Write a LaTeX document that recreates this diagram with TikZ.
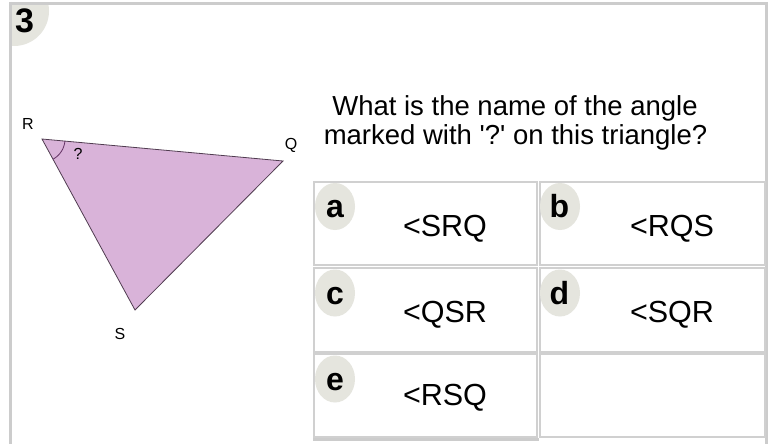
\documentclass[tikz,border=0pt]{standalone}
\usepackage{fontspec}
\setmainfont{Liberation Sans}
\frenchspacing
\definecolor{framegray}{RGB}{204,204,204}
\definecolor{cellgray}{RGB}{208,208,208}
\definecolor{badgegray}{RGB}{229,229,222}
\definecolor{trifill}{RGB}{217,179,217}
\definecolor{tristroke}{RGB}{80,60,80}
\definecolor{arcpurple}{RGB}{100,50,100}
\begin{document}
\begin{tikzpicture}[x=1pt,y=-1pt,
  frameline/.style={draw=framegray,line width=3pt},
  cellbox/.style={draw=cellgray,line width=2pt},
  badge/.style={fill=badgegray},
  letter/.style={anchor=base,inner sep=0pt,font=\fontsize{32}{36}\selectfont\bfseries},
  answer/.style={anchor=base,inner sep=0pt,font=\fontsize{30.5}{34}\selectfont},
  question/.style={anchor=base,inner sep=0pt,font=\fontsize{27.5}{31}\selectfont},
  vlabel/.style={inner sep=0pt,font=\fontsize{16}{18}\selectfont}]
\useasboundingbox (0,0) rectangle (772,444);
\fill[white] (0,0) rectangle (772,444);
% number badge
\begin{scope}
  \clip (10,3) rectangle (772,444);
  \fill[badgegray] (14,11) circle[radius=35];
\end{scope}
\node[anchor=base,inner sep=0pt,font=\fontsize{34}{36}\selectfont\bfseries] (num) at (24.5,33) {3};
% frame
\draw[frameline] (9,3.5) -- (767.5,3.5);
\draw[frameline] (10.5,2) -- (10.5,444);
\draw[frameline] (766,2) -- (766,444);
% triangle
\coordinate (R) at (42,139);
\coordinate (Q) at (283,161);
\coordinate (S) at (135,310);
\draw[fill=trifill,draw=tristroke,line width=0.8pt,line join=miter] (R) -- (Q) -- (S) -- cycle;
\draw[arcpurple,line width=0.8pt] plot[domain=5.2:61.5,samples=30] ({42+23*cos(\x)},{139+23*sin(\x)});
\node[vlabel] (qm) at (78,154) {?};
\node[vlabel] (lR) at (28,124) {R};
\node[vlabel] (lQ) at (291,145) {Q};
\node[vlabel] (lS) at (120,334) {S};
% question
\node[question] (q1) at (515,115) {What is the name of the angle};
\node[question] (q2) at (515.5,145) {marked with \textquotesingle?\textquotesingle{} on this triangle?};
% cells
\draw[cellbox] (314,182) rectangle (537,265);
\draw[cellbox] (540,182) rectangle (765,265);
\draw[cellbox] (314,268) rectangle (537,352);
\draw[cellbox] (540,268) rectangle (765,352);
\draw[cellbox] (314,354) rectangle (537,437);
\draw[cellbox] (540,354) rectangle (765,437);
\draw[draw=framegray,line width=3pt] (313,439.5) -- (539,439.5);
% badges
\fill[badge] (335,206.5) ellipse[x radius=20,y radius=23.5];
\fill[badge] (560,206.5) ellipse[x radius=20,y radius=23.5];
\fill[badge] (335,293) ellipse[x radius=20,y radius=23.5];
\fill[badge] (560,293) ellipse[x radius=20,y radius=23.5];
\fill[badge] (335,379) ellipse[x radius=20,y radius=23.5];
\node[letter] (la) at (335,217) {a};
\node[letter] (lb) at (559.5,217) {b};
\node[letter] (lc) at (335,304) {c};
\node[letter] (ld) at (559.5,304) {d};
\node[letter] (le) at (335,390) {e};
% answers
\node[answer] (ta) at (445,236) {<SRQ};
\node[answer] (tb) at (672,236) {<RQS};
\node[answer] (tc) at (445,322) {<QSR};
\node[answer] (td) at (672,322) {<SQR};
\node[answer] (te) at (445,405) {<RSQ};
\end{tikzpicture}
\end{document}
